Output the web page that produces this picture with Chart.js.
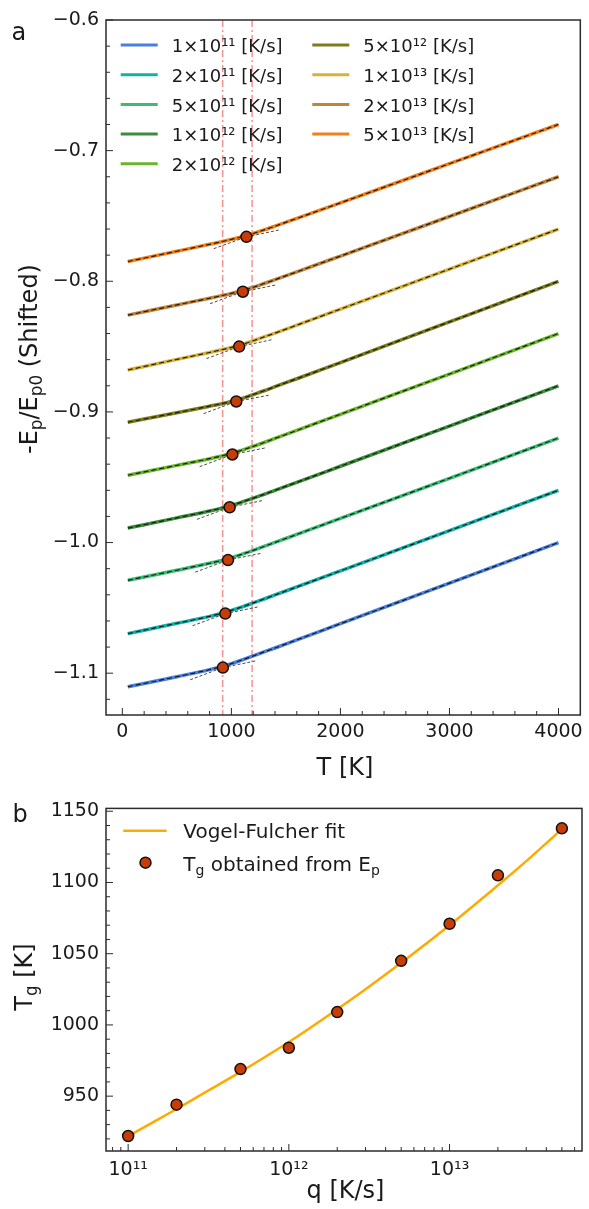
<!DOCTYPE html>
<html>
<head>
<meta charset="utf-8">
<script src="https://cdn.jsdelivr.net/npm/chart.js@4.4.1/dist/chart.umd.min.js"></script>
<style>
  html, body { margin: 0; padding: 0; background: #ffffff; }
  #page { position: relative; width: 589px; height: 1209px; overflow: hidden; background: #ffffff; }
  #panelA { position: absolute; left: 0; top: 0; }
  #panelB { position: absolute; left: 0; top: 790px; }
</style>
</head>
<body>
<div id="page">
  <canvas id="panelA" width="589" height="790"></canvas>
  <canvas id="panelB" width="589" height="419"></canvas>
</div>
<script>
// ---------- panel a: shifted potential energy vs temperature ----------
const tempGrid = [50, 500, 800, 900, 1000, 1100, 1200, 1300, 1400, 1600, 2000, 3000, 4000];

const rateLabels = [
  '1×10¹¹ [K/s]', '2×10¹¹ [K/s]', '5×10¹¹ [K/s]', '1×10¹² [K/s]', '2×10¹² [K/s]',
  '5×10¹² [K/s]', '1×10¹³ [K/s]', '2×10¹³ [K/s]', '5×10¹³ [K/s]'
];

const epRate1e11 = [-1.1104, -1.1027, -1.0973, -1.0952, -1.0927, -1.0898, -1.0868, -1.0837, -1.0807, -1.0745, -1.0621, -1.0311, -1.0000];
const epRate2e11 = [-1.0697, -1.0618, -1.0565, -1.0544, -1.0519, -1.0492, -1.0462, -1.0432, -1.0401, -1.0340, -1.0217, -0.9909, -0.9600];
const epRate5e11 = [-1.0289, -1.0212, -1.0159, -1.0139, -1.0116, -1.0089, -1.0060, -1.0030, -0.9999, -0.9938, -0.9815, -0.9508, -0.9200];
const epRate1e12 = [-0.9889, -0.9811, -0.9758, -0.9738, -0.9716, -0.9689, -0.9660, -0.9631, -0.9600, -0.9539, -0.9416, -0.9108, -0.8800];
const epRate2e12 = [-0.9485, -0.9409, -0.9358, -0.9339, -0.9318, -0.9292, -0.9264, -0.9234, -0.9203, -0.9142, -0.9018, -0.8710, -0.8400];
const epRate5e12 = [-0.9079, -0.9006, -0.8956, -0.8939, -0.8920, -0.8896, -0.8867, -0.8838, -0.8807, -0.8746, -0.8622, -0.8311, -0.8000];
const epRate1e13 = [-0.8679, -0.8598, -0.8545, -0.8526, -0.8506, -0.8483, -0.8455, -0.8426, -0.8397, -0.8336, -0.8213, -0.7907, -0.7600];
const epRate2e13 = [-0.8259, -0.8181, -0.8130, -0.8112, -0.8093, -0.8071, -0.8046, -0.8017, -0.7988, -0.7928, -0.7807, -0.7504, -0.7200];
const epRate5e13 = [-0.7849, -0.7770, -0.7717, -0.7699, -0.7679, -0.7659, -0.7634, -0.7607, -0.7578, -0.7519, -0.7400, -0.7100, -0.6800];

const epSeries = [epRate1e11, epRate2e11, epRate5e11, epRate1e12, epRate2e12,
                  epRate5e12, epRate1e13, epRate2e13, epRate5e13];

// glass transition (intersection of the glass and liquid linear fits)
const glassTemp   = [922, 944, 969, 984, 1009, 1045, 1071, 1105, 1138];
const glassEnergy = [-1.0957, -1.0544, -1.0134, -0.9730, -0.9326, -0.8920, -0.8500, -0.8080, -0.7660];
const glassSlope  = [1.70e-5, 1.72e-5, 1.70e-5, 1.71e-5, 1.67e-5, 1.61e-5, 1.76e-5, 1.71e-5, 1.75e-5];
const liquidSlope = [3.11e-5, 3.09e-5, 3.08e-5, 3.08e-5, 3.10e-5, 3.11e-5, 3.07e-5, 3.04e-5, 3.01e-5];

const refTemps = [920, 1190];

const tempTicks   = [0, 1000, 2000, 3000, 4000];
const energyTicks = [-1.1, -1.0, -0.9, -0.8, -0.7, -0.6];

// ---------- panel b: glass transition temperature vs cooling rate ----------
const coolingRates = [1e11, 2e11, 5e11, 1e12, 2e12, 5e12, 1e13, 2e13, 5e13];
const fitRates = [1e11, 2e11, 3e11, 5e11, 1e12, 2e12, 3e12, 5e12, 1e13, 2e13, 3e13, 5e13];
const fitTemp  = [922, 941, 952.5, 967, 988, 1011, 1025, 1043.6, 1070, 1098, 1115, 1137.5];
const tgTicks = [950, 1000, 1050, 1100, 1150];
const rateTicks = [1e11, 1e12, 1e13];
const rateTickLabels = ['10¹¹', '10¹²', '10¹³'];

// ---------- styling ----------
const FONT = '"DejaVu Sans", sans-serif';
const INK = '#1a1a1a';
const rateColors = ['#4A7FDB', '#17AEA8', '#3DBB73', '#3C8C3C', '#6BB52E',
                    '#7D7D1E', '#D6B23C', '#C1843A', '#F07F1E'];
const DOT_FILL = '#C83C08';
const FIT_LINE = '#FFAA00';
const TANGENT_SPAN = 300;

// text with sub/superscript segments: parts = [[text, 'sub'|'sup'|undefined], ...]
function drawRich(ctx, parts, x, y, size, align, rotated) {
  ctx.save();
  ctx.translate(x, y);
  if (rotated) ctx.rotate(-Math.PI / 2);
  ctx.fillStyle = INK;
  ctx.textBaseline = 'alphabetic';
  ctx.textAlign = 'left';
  let total = 0;
  const segs = parts.map(([t, kind]) => {
    const fs = kind ? size * 0.7 : size;
    ctx.font = fs + 'px ' + FONT;
    const w = ctx.measureText(t).width;
    total += w;
    return { t, kind, fs, w };
  });
  let cx = align === 'center' ? -total / 2 : 0;
  segs.forEach(s => {
    ctx.font = s.fs + 'px ' + FONT;
    const dy = s.kind === 'sub' ? size * 0.22 : (s.kind === 'sup' ? -size * 0.4 : 0);
    ctx.fillText(s.t, cx, dy);
    cx += s.w;
  });
  ctx.restore();
}

function drawFrameAndTicks(chart, xMajor, xMinor, yMajor, yMinor) {
  const { ctx, chartArea: a, scales: { x, y } } = chart;
  ctx.save();
  ctx.strokeStyle = '#2b2b2b';
  ctx.lineWidth = 1;
  const seg = (x1, y1, x2, y2) => { ctx.beginPath(); ctx.moveTo(x1, y1); ctx.lineTo(x2, y2); ctx.stroke(); };
  xMajor.forEach(v => { const p = x.getPixelForValue(v); seg(p, a.bottom, p, a.bottom - 7); });
  xMinor.forEach(v => { const p = x.getPixelForValue(v); seg(p, a.bottom, p, a.bottom - 4); });
  yMajor.forEach(v => { const p = y.getPixelForValue(v); seg(a.left, p, a.left + 7, p); });
  yMinor.forEach(v => { const p = y.getPixelForValue(v); seg(a.left, p, a.left + 4, p); });
  ctx.lineWidth = 1.5;
  ctx.strokeRect(a.left, a.top, a.right - a.left, a.bottom - a.top);
  ctx.restore();
}

// minor tick positions
const tempMinor = [];
for (let t = 200; t <= 4000; t += 200) if (t % 1000 !== 0) tempMinor.push(t);
const energyMinor = [];
for (let i = -56; i <= -31; i++) { const v = i * 0.02; if (Math.abs(v * 10 - Math.round(v * 10)) > 1e-6) energyMinor.push(v); }
const tgMinor = [];
for (let v = 920; v <= 1150; v += 10) if (v % 50 !== 0) tgMinor.push(v);
const rateMinor = [];
[1e10, 1e11, 1e12, 1e13].forEach(d => { for (let m = 2; m <= 9; m++) { const v = m * d; if (v > 7.28e10 && v < 6.67e13) rateMinor.push(v); } });

// ---------- panel a datasets ----------
const datasetsA = [];
epSeries.forEach((series, k) => {
  const pts = tempGrid.map((t, i) => ({ x: t, y: series[i] }));
  datasetsA.push({
    label: rateLabels[k], data: pts, inLegend: true,
    borderColor: rateColors[k], borderWidth: 3.5, pointRadius: 0,
    cubicInterpolationMode: 'monotone', order: 4
  });
  datasetsA.push({
    data: pts, borderColor: 'rgba(15,15,15,0.9)', borderWidth: 1.2, borderDash: [5, 3],
    pointRadius: 0, cubicInterpolationMode: 'monotone', order: 3
  });
  const tg = glassTemp[k], eg = glassEnergy[k];
  datasetsA.push({
    data: [{ x: tg - TANGENT_SPAN, y: eg - TANGENT_SPAN * liquidSlope[k] }, { x: tg, y: eg }],
    borderColor: '#4a4a4a', borderWidth: 1, borderDash: [3, 2], pointRadius: 0, order: 2
  });
  datasetsA.push({
    data: [{ x: tg, y: eg }, { x: tg + TANGENT_SPAN, y: eg + TANGENT_SPAN * glassSlope[k] }],
    borderColor: '#4a4a4a', borderWidth: 1, borderDash: [3, 2], pointRadius: 0, order: 2
  });
});
datasetsA.push({
  data: glassTemp.map((t, k) => ({ x: t, y: glassEnergy[k] })),
  showLine: false, pointRadius: 5.5, pointBackgroundColor: DOT_FILL,
  pointBorderColor: '#111111', pointBorderWidth: 1.5, order: 1
});

const panelADecor = {
  id: 'panelADecor',
  beforeDatasetsDraw(chart) {
    const { ctx, chartArea: a, scales: { x } } = chart;
    ctx.save();
    ctx.beginPath(); ctx.rect(a.left, a.top, a.right - a.left, a.bottom - a.top); ctx.clip();
    ctx.strokeStyle = 'rgba(244,120,120,0.8)';
    ctx.lineWidth = 1.5;
    ctx.setLineDash([7, 3, 2, 3]);
    refTemps.forEach(t => {
      const p = x.getPixelForValue(t);
      ctx.beginPath(); ctx.moveTo(p, a.top); ctx.lineTo(p, a.bottom); ctx.stroke();
    });
    ctx.restore();
  },
  afterDraw(chart) {
    const { ctx } = chart;
    drawFrameAndTicks(chart, tempTicks, tempMinor, energyTicks, energyMinor);
    // legend, two columns
    const entries = chart.data.datasets.filter(d => d.inLegend);
    const colX = [120.7, 312.3];
    ctx.save();
    entries.forEach((d, i) => {
      const col = i < 5 ? 0 : 1, row = i < 5 ? i : i - 5;
      const lx = colX[col], ly = 45 + row * 29.7;
      ctx.strokeStyle = d.borderColor; ctx.lineWidth = 3; ctx.setLineDash([]);
      ctx.beginPath(); ctx.moveTo(lx, ly); ctx.lineTo(lx + 37, ly); ctx.stroke();
      ctx.fillStyle = INK; ctx.font = '18px ' + FONT;
      ctx.textAlign = 'left'; ctx.textBaseline = 'alphabetic';
      ctx.fillText(d.label, lx + 51, ly + 7.3);
    });
    ctx.restore();
    // titles and panel letter
    drawRich(ctx, [['T [K]']], 345, 775, 24, 'center', false);
    drawRich(ctx, [['-E'], ['p', 'sub'], ['/E'], ['p0', 'sub'], [' (Shifted)']], 37, 359, 24, 'center', true);
    drawRich(ctx, [['a']], 11.5, 40, 24, 'left', false);
  }
};

new Chart(document.getElementById('panelA'), {
  type: 'line',
  data: { datasets: datasetsA },
  options: {
    responsive: false, animation: false, devicePixelRatio: 1,
    layout: { padding: { top: 20, right: 5, left: 0, bottom: 0 } },
    plugins: { legend: { display: false }, tooltip: { enabled: false }, title: { display: false } },
    scales: {
      x: {
        type: 'linear', min: -150, max: 4200, bounds: 'data',
        grid: { display: false, drawTicks: false }, border: { display: false },
        afterBuildTicks: s => { s.ticks = tempTicks.map(v => ({ value: v })); },
        afterFit: s => { s.height = 75; },
        ticks: { autoSkip: false, maxRotation: 0, minRotation: 0, padding: 6, color: INK,
                 font: { family: FONT, size: 19 }, callback: v => String(v) }
      },
      y: {
        type: 'linear', min: -1.132, max: -0.6, bounds: 'data',
        grid: { display: false, drawTicks: false }, border: { display: false },
        afterBuildTicks: s => { s.ticks = energyTicks.map(v => ({ value: v })); },
        afterFit: s => { s.width = 106; },
        ticks: { autoSkip: false, padding: 7, color: INK, font: { family: FONT, size: 19 },
                 callback: v => v.toFixed(1).replace('-', '\u2212') }
      }
    }
  },
  plugins: [panelADecor]
});

// ---------- panel b ----------
const panelBDecor = {
  id: 'panelBDecor',
  afterDraw(chart) {
    const { ctx } = chart;
    drawFrameAndTicks(chart, rateTicks, rateMinor, tgTicks, tgMinor);
    const fitDs = chart.data.datasets[0], dotDs = chart.data.datasets[1];
    ctx.save();
    ctx.strokeStyle = fitDs.borderColor; ctx.lineWidth = 2.5;
    ctx.beginPath(); ctx.moveTo(123.3, 40.7); ctx.lineTo(166.7, 40.7); ctx.stroke();
    ctx.fillStyle = dotDs.pointBackgroundColor; ctx.strokeStyle = dotDs.pointBorderColor; ctx.lineWidth = 1.5;
    ctx.beginPath(); ctx.arc(145.5, 72.7, 5.5, 0, Math.PI * 2); ctx.fill(); ctx.stroke();
    ctx.restore();
    drawRich(ctx, [[fitDs.label]], 183.3, 48.3, 20, 'left', false);
    drawRich(ctx, [['T'], ['g', 'sub'], [' obtained from E'], ['p', 'sub']], 183.3, 80.7, 20, 'left', false);
    drawRich(ctx, [['q [K/s]']], 345.5, 408.3, 24, 'center', false);
    drawRich(ctx, [['T'], ['g', 'sub'], [' [K]']], 32, 187, 24, 'center', true);
    drawRich(ctx, [['b']], 12.5, 32, 24, 'left', false);
  }
};

new Chart(document.getElementById('panelB'), {
  type: 'line',
  data: {
    datasets: [
      {
        label: 'Vogel-Fulcher fit',
        data: fitRates.map((q, i) => ({ x: q, y: fitTemp[i] })),
        borderColor: FIT_LINE, borderWidth: 2.5, pointRadius: 0,
        tension: 0.35, order: 2
      },
      {
        label: 'Tg obtained from Ep',
        data: coolingRates.map((q, i) => ({ x: q, y: glassTemp[i] })),
        showLine: false, pointRadius: 5.5, pointBackgroundColor: DOT_FILL,
        pointBorderColor: '#111111', pointBorderWidth: 1.5, order: 1
      }
    ]
  },
  options: {
    responsive: false, animation: false, devicePixelRatio: 1,
    layout: { padding: { top: 13.3, right: 4, left: 0, bottom: 0 } },
    plugins: { legend: { display: false }, tooltip: { enabled: false }, title: { display: false } },
    scales: {
      x: {
        type: 'logarithmic', min: 7.28e10, max: 6.67e13, bounds: 'data',
        grid: { display: false, drawTicks: false }, border: { display: false },
        afterBuildTicks: s => { s.ticks = rateTicks.map(v => ({ value: v })); },
        afterFit: s => { s.height = 58; },
        ticks: { autoSkip: false, maxRotation: 0, minRotation: 0, padding: 8, color: INK,
                 font: { family: FONT, size: 19 },
                 callback: v => { const i = rateTicks.indexOf(v); return i >= 0 ? rateTickLabels[i] : ''; } }
      },
      y: {
        type: 'linear', min: 911.5, max: 1152, bounds: 'data',
        grid: { display: false, drawTicks: false }, border: { display: false },
        afterBuildTicks: s => { s.ticks = tgTicks.map(v => ({ value: v })); },
        afterFit: s => { s.width = 106; },
        ticks: { autoSkip: false, padding: 7, color: INK, font: { family: FONT, size: 19 },
                 callback: v => String(v) }
      }
    }
  },
  plugins: [panelBDecor]
});
</script>
</body>
</html>
